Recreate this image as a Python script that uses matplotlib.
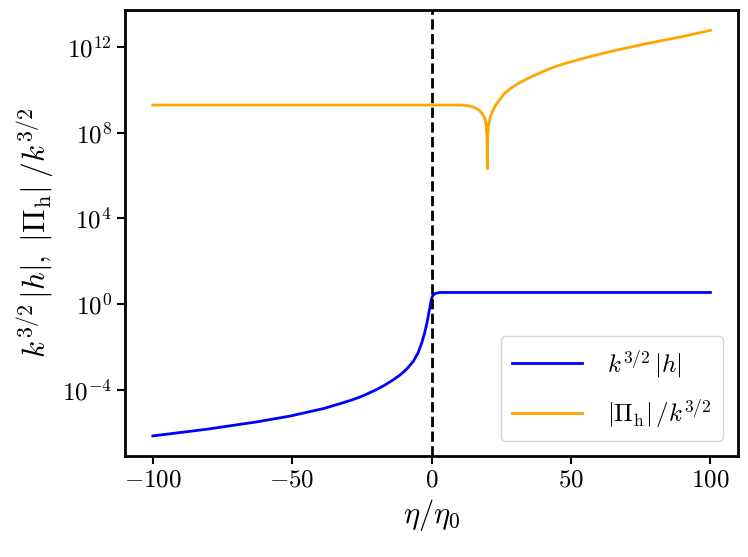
import matplotlib
matplotlib.use("Agg")
import matplotlib.pyplot as plt
from matplotlib.ticker import FixedLocator, NullLocator

plt.rcParams['mathtext.fontset'] = 'cm'
plt.rcParams['font.family'] = 'serif'
plt.rcParams['font.serif'] = ['cmr10', 'DejaVu Serif']
plt.rcParams['axes.formatter.use_mathtext'] = True

# blue curve: k^{3/2}|h|
eta_h = [-100, -80.7, -62.7, -50.7, -38.7, -32.7, -28.5, -24.4, -19.5, -17,
         -14, -11, -8.7, -6.5, -4.8, -3.5, -2.5, -1.7, -1.2, -0.6, -0.1, 0.5,
         1.4, 3, 100]
h_vals = [7.1e-7, 1.45e-6, 3.2e-6, 6.0e-6, 1.35e-5, 2.3e-5, 3.4e-5, 5.4e-5,
          1.07e-4, 1.6e-4, 2.8e-4, 5.3e-4, 1.0e-3, 2.2e-3, 5.5e-3, 1.6e-2,
          4.5e-2, 0.126, 0.28, 0.7, 1.7, 2.6, 3.2, 3.5, 3.5]

# orange curve: |Pi_h|/k^{3/2}
eta_pi = [-100, 10.4, 13, 15.2, 17, 18.2, 19.0, 19.4, 19.85, 20.0, 20.15, 20.5,
          21.2, 22.0, 23.0, 24.5, 26.0, 28.3, 30.8, 33.7, 36.8, 39.8, 42.8,
          46.4, 50.0, 53.6, 59.6, 65.6, 71.6, 77.6, 83.6, 89.6, 100]
pi_vals = [1.95e9, 1.95e9, 1.82e9, 1.55e9, 1.15e9, 7.6e8, 4.8e8, 3.1e8, 7.9e7,
           2.1e6, 7.9e7, 2.5e8, 6.3e8, 1.12e9, 1.95e9, 3.6e9, 6.5e9, 1.15e10,
           1.9e10, 3.0e10, 4.7e10, 7.0e10, 1.02e11, 1.5e11, 2.05e11, 2.75e11,
           4.4e11, 6.8e11, 1.0e12, 1.48e12, 2.1e12, 3.0e12, 6.0e12]

x_ticks = [-100, -50, 0, 50, 100]
y_ticks = [1e-4, 1e0, 1e4, 1e8, 1e12]

fig = plt.figure(figsize=(7.48, 5.57), dpi=100)
ax = fig.add_axes([0.167, 0.181, 0.82, 0.801])

ax.plot(eta_h, h_vals, color='blue', lw=2, label=r'$k^{3/2}\,|h|$')
ax.plot(eta_pi, pi_vals, color='orange', lw=2, label=r'$|\Pi_{\rm h}|\,/k^{3/2}$')
ax.axvline(0, color='black', ls='--', lw=2)

ax.set_yscale('log')
ax.yaxis.set_major_locator(FixedLocator(y_ticks))
ax.yaxis.set_minor_locator(NullLocator())
ax.set_xticks(x_ticks)

ax.set_xlabel(r'$\eta/\eta_0$', fontsize=22)
ax.set_ylabel(r'$k^{3/2}\,|h|,\;|\Pi_{\rm h}|\;/k^{3/2}$', fontsize=22.5)
ax.tick_params(labelsize=18, width=1.5, length=6)
for s in ax.spines.values():
    s.set_linewidth(2)

ax.legend(loc='lower right', fontsize=18, handlelength=2.8, borderpad=0.45,
          labelspacing=0.7, handletextpad=1.0, borderaxespad=0.6)

fig.savefig('out.png', dpi=100)
